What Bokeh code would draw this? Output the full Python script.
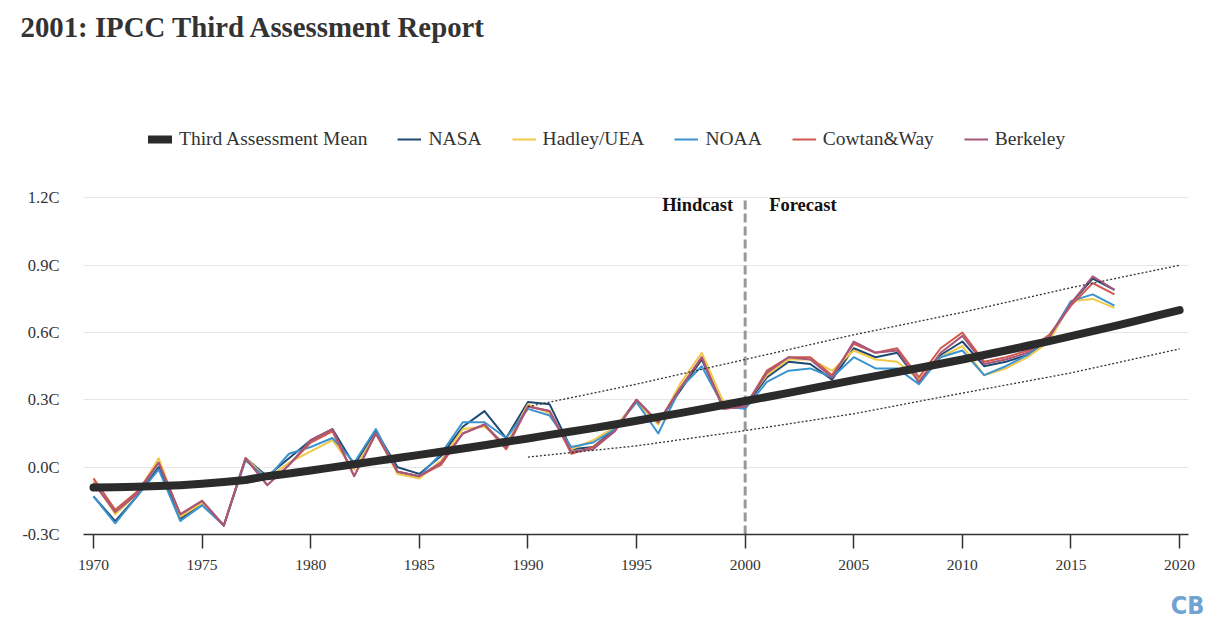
from bokeh.plotting import figure
from bokeh.models import (Range1d, FixedTicker, PrintfTickFormatter, Legend,
                          LegendItem, Label, Title)
from bokeh.embed import file_html
from bokeh.resources import INLINE

# ---------------- data ----------------
years = list(range(1970, 2018))

nasa = [-0.13, -0.24, -0.13, 0.00, -0.23, -0.16, -0.26, 0.04, -0.04, 0.04,
        0.12, 0.17, 0.01, 0.16, 0.00, -0.03, 0.05, 0.18, 0.25, 0.13,
        0.29, 0.28, 0.08, 0.09, 0.17, 0.30, 0.20, 0.34, 0.48, 0.27,
        0.27, 0.40, 0.47, 0.46, 0.39, 0.53, 0.49, 0.51, 0.38, 0.50,
        0.56, 0.45, 0.47, 0.50, 0.57, 0.73, 0.84, 0.79]

hadley = [-0.06, -0.21, -0.12, 0.04, -0.22, -0.16, -0.26, 0.04, -0.05, 0.02,
          0.07, 0.12, -0.01, 0.15, -0.03, -0.05, 0.03, 0.17, 0.18, 0.10,
          0.28, 0.24, 0.08, 0.12, 0.18, 0.29, 0.19, 0.37, 0.51, 0.29,
          0.28, 0.41, 0.48, 0.48, 0.43, 0.52, 0.48, 0.47, 0.39, 0.49,
          0.54, 0.41, 0.44, 0.49, 0.56, 0.74, 0.75, 0.71]

noaa = [-0.13, -0.25, -0.13, -0.01, -0.24, -0.17, -0.26, 0.03, -0.05, 0.06,
        0.09, 0.13, 0.02, 0.17, -0.02, -0.04, 0.06, 0.20, 0.20, 0.13,
        0.26, 0.23, 0.09, 0.11, 0.17, 0.29, 0.15, 0.35, 0.45, 0.27,
        0.26, 0.38, 0.43, 0.44, 0.40, 0.49, 0.44, 0.44, 0.37, 0.49,
        0.52, 0.41, 0.45, 0.50, 0.58, 0.74, 0.77, 0.72]

cowtan = [-0.05, -0.19, -0.11, 0.02, -0.21, -0.15, -0.26, 0.04, -0.08, 0.01,
          0.11, 0.16, -0.04, 0.15, -0.02, -0.04, 0.01, 0.15, 0.19, 0.08,
          0.27, 0.25, 0.06, 0.09, 0.16, 0.30, 0.20, 0.35, 0.49, 0.26,
          0.27, 0.43, 0.49, 0.49, 0.41, 0.55, 0.51, 0.53, 0.40, 0.53,
          0.60, 0.47, 0.49, 0.52, 0.59, 0.72, 0.82, 0.77]

berkeley = [-0.07, -0.20, -0.12, 0.02, -0.21, -0.15, -0.26, 0.04, -0.08, 0.01,
            0.12, 0.17, -0.04, 0.15, -0.02, -0.04, 0.02, 0.15, 0.19, 0.09,
            0.27, 0.25, 0.07, 0.08, 0.16, 0.30, 0.20, 0.35, 0.49, 0.26,
            0.27, 0.42, 0.49, 0.48, 0.40, 0.56, 0.51, 0.52, 0.38, 0.51,
            0.585, 0.46, 0.48, 0.51, 0.58, 0.73, 0.85, 0.79]

mean_years = list(range(1970, 2021))
mean_vals = [-0.090, -0.089, -0.087, -0.084, -0.080, -0.074, -0.066, -0.057,
             -0.040, -0.028, -0.015, -0.001, 0.013, 0.027, 0.041, 0.055,
             0.069, 0.083, 0.098, 0.113, 0.128, 0.144, 0.159, 0.174, 0.190,
             0.207, 0.224, 0.241, 0.259, 0.277, 0.295, 0.313, 0.331, 0.350,
             0.369, 0.388, 0.406, 0.424, 0.442, 0.461, 0.480, 0.500, 0.520,
             0.541, 0.562, 0.584, 0.606, 0.629, 0.652, 0.676, 0.700]

band_years = [1990, 1995, 2000, 2005, 2010, 2015, 2020]
band_upper = [0.27, 0.37, 0.48, 0.59, 0.69, 0.80, 0.90]
band_lower = [0.045, 0.095, 0.163, 0.238, 0.33, 0.42, 0.527]

divider_year = 2000
y_ticks = [-0.3, 0.0, 0.3, 0.6, 0.9, 1.2]
x_ticks = [1970, 1975, 1980, 1985, 1990, 1995, 2000, 2005, 2010, 2015, 2020]

series_names = ["NASA", "Hadley/UEA", "NOAA", "Cowtan&Way", "Berkeley"]
series_values = [nasa, hadley, noaa, cowtan, berkeley]
series_colors = ["#1d4a72", "#f0c84a", "#3b93d0", "#d0574b", "#a8567a"]

title_text = "2001: IPCC Third Assessment Report"
logo_text = "CB"

SERIF = "Liberation Serif"
TXT = "#333333"

# frame: y=-0.3 at 534px, 1.2 at 196px; frame top ~52px (under the title)
FRAME_TOP = 52
px_per_unit = (534 - 196) / (y_ticks[-1] - y_ticks[0])
y_top = y_ticks[0] + (534 - FRAME_TOP) / px_per_unit

p = figure(width=1228, height=638, output_backend="svg", toolbar_location=None,
           x_range=Range1d(1969.54, 2020.41), y_range=Range1d(y_ticks[0], y_top),
           min_border_left=83, min_border_right=40, min_border_top=0,
           min_border_bottom=104)
p.outline_line_color = None
p.background_fill_color = "white"
p.border_fill_color = "white"

p.title.text = title_text
p.title.text_font = SERIF
p.title.text_font_size = "28.8px"
p.title.text_font_style = "bold"
p.title.text_color = TXT
p.title.align = "left"
p.title.offset = -63
p.title.vertical_align = "top"
p.title.standoff = 20

# axes
p.xaxis.ticker = FixedTicker(ticks=x_ticks)
p.xaxis.axis_line_color = TXT
p.xaxis.axis_line_width = 1.5
p.xaxis.major_tick_line_color = TXT
p.xaxis.major_tick_line_width = 1.5
p.xaxis.major_tick_out = 14
p.xaxis.major_tick_in = 0
p.xaxis.minor_tick_line_color = None
p.xaxis.major_label_standoff = 11
p.xaxis.major_label_text_font = SERIF
p.xaxis.major_label_text_font_size = "15.5px"
p.xaxis.major_label_text_color = TXT

p.yaxis.ticker = FixedTicker(ticks=y_ticks)
p.yaxis.formatter = PrintfTickFormatter(format="%.1fC")
p.yaxis.axis_line_color = None
p.yaxis.major_tick_line_color = None
p.yaxis.minor_tick_line_color = None
p.yaxis.major_label_standoff = 18
p.yaxis.major_label_text_font = SERIF
p.yaxis.major_label_text_font_size = "16.5px"
p.yaxis.major_label_text_color = TXT

p.xgrid.grid_line_color = None
p.ygrid.grid_line_color = "#e6e6e6"
p.ygrid.grid_line_width = 1.2

# logo under the x axis, right aligned
p.add_layout(Title(text=logo_text, align="right", offset=-16,
                   vertical_align="bottom", standoff=33,
                   text_font="DejaVu Sans Condensed", text_font_size="25px",
                   text_font_style="bold", text_color="#6fa3d2"), "below")

# hindcast / forecast divider
p.segment(x0=[divider_year], y0=[y_ticks[0]], x1=[divider_year], y1=[y_ticks[-1]],
          line_color="#999999", line_width=3, line_dash="9 4")

# observation lines
renderers = []
for name, vals, col in zip(series_names, series_values, series_colors):
    r = p.line(years, vals, line_color=col, line_width=2, line_join="round")
    renderers.append(r)

# uncertainty bounds
p.line(band_years, band_upper, line_color="#333333", line_width=1.3, line_dash="2 2")
p.line(band_years, band_lower, line_color="#333333", line_width=1.3, line_dash="2 2")

# mean projection
r_mean = p.line(mean_years, mean_vals, line_color="#2b2b2b", line_width=8,
                line_cap="round", line_join="round")

# legend
items = [LegendItem(label="Third Assessment Mean", renderers=[r_mean])]
for name, r in zip(series_names, renderers):
    items.append(LegendItem(label=name, renderers=[r]))
legend = Legend(items=items, orientation="horizontal", location=(65, 384),
                label_text_font=SERIF, label_text_font_size="19.5px",
                label_text_color=TXT, glyph_width=24, glyph_height=20,
                label_height=20, label_standoff=7, spacing=30, padding=0,
                margin=0, border_line_alpha=0, background_fill_alpha=0)
p.add_layout(legend)

p.add_layout(Label(x=divider_year, y=330, x_units="data", y_units="screen",
                   x_offset=-12, text="Hindcast", text_font=SERIF,
                   text_font_size="18.5px", text_font_style="bold",
                   text_color="#111111", text_align="right",
                   text_baseline="alphabetic"))
p.add_layout(Label(x=divider_year, y=330, x_units="data", y_units="screen",
                   x_offset=24, text="Forecast", text_font=SERIF,
                   text_font_size="18.5px", text_font_style="bold",
                   text_color="#111111", text_align="left",
                   text_baseline="alphabetic"))

open("out.html", "w").write(file_html(p, INLINE))
